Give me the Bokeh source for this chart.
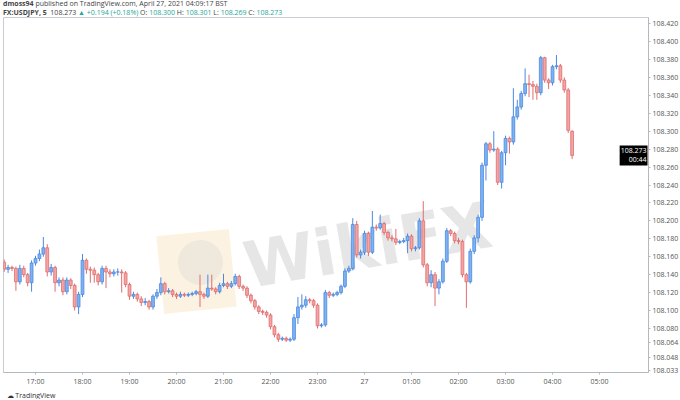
from bokeh.plotting import figure
from bokeh.models import ColumnDataSource, FixedTicker, Label, Div, PrintfTickFormatter, Title
from bokeh.layouts import column
from bokeh.core.properties import value
from bokeh.embed import file_html
from bokeh.resources import INLINE

# USDJPY 5 minute candles, 26 Apr 16:20 -> 27 Apr 04:25
opens = [108.154, 108.146, 108.148, 108.147, 108.132, 108.147, 108.140, 108.131, 108.153, 108.158,
         108.163, 108.170, 108.143, 108.148, 108.131, 108.134, 108.121, 108.134, 108.128, 108.104,
         108.118, 108.156, 108.146, 108.145, 108.140, 108.132, 108.147, 108.143, 108.141, 108.143,
         108.143, 108.142, 108.129, 108.116, 108.118, 108.113, 108.109, 108.110, 108.104, 108.116,
         108.120, 108.130, 108.121, 108.122, 108.118, 108.116, 108.118, 108.117, 108.118, 108.119,
         108.121, 108.118, 108.116, 108.125, 108.124, 108.121, 108.128, 108.130, 108.127, 108.130,
         108.138, 108.127, 108.125, 108.117, 108.111, 108.104, 108.099, 108.098, 108.095, 108.082,
         108.073, 108.068, 108.069, 108.067, 108.068, 108.092, 108.104, 108.106, 108.112, 108.111,
         108.106, 108.083, 108.084, 108.120, 108.117, 108.118, 108.120, 108.127, 108.144, 108.147,
         108.196, 108.162, 108.165, 108.186, 108.165, 108.193, 108.192, 108.197, 108.187, 108.181,
         108.180, 108.176, 108.177, 108.178, 108.183, 108.169, 108.170, 108.200, 108.151, 108.131,
         108.140, 108.125, 108.132, 108.155, 108.189, 108.186, 108.178, 108.177, 108.140, 108.132,
         108.166, 108.181, 108.204, 108.262, 108.286, 108.279, 108.280, 108.243, 108.276, 108.292,
         108.288, 108.316, 108.327, 108.342, 108.353, 108.352, 108.350, 108.343, 108.382, 108.357,
         108.354, 108.372, 108.373, 108.357, 108.346, 108.300]
highs = [108.157, 108.151, 108.150, 108.149, 108.151, 108.150, 108.142, 108.156, 108.161, 108.168,
         108.182, 108.174, 108.152, 108.150, 108.137, 108.137, 108.137, 108.136, 108.130, 108.121,
         108.163, 108.158, 108.149, 108.148, 108.142, 108.150, 108.150, 108.146, 108.146, 108.147,
         108.146, 108.144, 108.131, 108.121, 108.120, 108.116, 108.114, 108.112, 108.118, 108.124,
         108.137, 108.132, 108.125, 108.124, 108.120, 108.121, 108.120, 108.120, 108.121, 108.123,
         108.140, 108.120, 108.140, 108.140, 108.126, 108.131, 108.141, 108.132, 108.133, 108.141,
         108.140, 108.129, 108.127, 108.119, 108.113, 108.106, 108.101, 108.100, 108.097, 108.084,
         108.075, 108.071, 108.071, 108.070, 108.096, 108.115, 108.118, 108.116, 108.114, 108.113,
         108.108, 108.086, 108.123, 108.122, 108.120, 108.122, 108.129, 108.147, 108.150, 108.203,
         108.200, 108.168, 108.189, 108.188, 108.211, 108.196, 108.207, 108.199, 108.189, 108.184,
         108.191, 108.179, 108.181, 108.186, 108.185, 108.172, 108.203, 108.222, 108.153, 108.145,
         108.143, 108.135, 108.158, 108.192, 108.191, 108.188, 108.181, 108.179, 108.142, 108.169,
         108.184, 108.207, 108.265, 108.288, 108.288, 108.300, 108.282, 108.278, 108.295, 108.294,
         108.348, 108.335, 108.345, 108.370, 108.363, 108.356, 108.353, 108.384, 108.383, 108.359,
         108.374, 108.385, 108.375, 108.360, 108.348, 108.301]
lows = [108.143, 108.142, 108.144, 108.122, 108.129, 108.137, 108.127, 108.121, 108.150, 108.155,
        108.160, 108.138, 108.139, 108.121, 108.127, 108.117, 108.118, 108.124, 108.100, 108.096,
        108.115, 108.141, 108.131, 108.131, 108.128, 108.129, 108.125, 108.137, 108.138, 108.139,
        108.120, 108.126, 108.112, 108.113, 108.110, 108.105, 108.106, 108.101, 108.101, 108.113,
        108.117, 108.118, 108.119, 108.115, 108.113, 108.114, 108.115, 108.115, 108.116, 108.117,
        108.104, 108.113, 108.114, 108.122, 108.118, 108.119, 108.126, 108.124, 108.125, 108.128,
        108.124, 108.122, 108.114, 108.108, 108.101, 108.096, 108.095, 108.092, 108.079, 108.070,
        108.065, 108.066, 108.065, 108.065, 108.066, 108.085, 108.101, 108.103, 108.108, 108.103,
        108.080, 108.081, 108.082, 108.114, 108.115, 108.116, 108.118, 108.125, 108.142, 108.145,
        108.159, 108.158, 108.162, 108.161, 108.163, 108.189, 108.190, 108.184, 108.178, 108.177,
        108.173, 108.174, 108.175, 108.164, 108.166, 108.166, 108.168, 108.148, 108.127, 108.126,
        108.105, 108.118, 108.130, 108.153, 108.183, 108.175, 108.174, 108.137, 108.103, 108.130,
        108.163, 108.176, 108.200, 108.245, 108.276, 108.277, 108.240, 108.236, 108.262, 108.275,
        108.285, 108.313, 108.324, 108.339, 108.338, 108.335, 108.335, 108.340, 108.354, 108.347,
        108.351, 108.369, 108.354, 108.343, 108.298, 108.269]
closes = [108.146, 108.148, 108.147, 108.132, 108.147, 108.140, 108.131, 108.153, 108.158, 108.163,
          108.170, 108.143, 108.148, 108.131, 108.134, 108.121, 108.134, 108.128, 108.104, 108.118,
          108.156, 108.146, 108.145, 108.140, 108.132, 108.147, 108.143, 108.141, 108.143, 108.143,
          108.142, 108.129, 108.116, 108.118, 108.113, 108.109, 108.110, 108.104, 108.116, 108.120,
          108.130, 108.121, 108.122, 108.118, 108.116, 108.118, 108.117, 108.118, 108.119, 108.121,
          108.118, 108.116, 108.125, 108.124, 108.121, 108.128, 108.130, 108.127, 108.130, 108.138,
          108.127, 108.125, 108.117, 108.111, 108.104, 108.099, 108.098, 108.095, 108.082, 108.073,
          108.068, 108.069, 108.067, 108.068, 108.092, 108.104, 108.106, 108.112, 108.111, 108.106,
          108.083, 108.084, 108.120, 108.117, 108.118, 108.120, 108.127, 108.144, 108.147, 108.196,
          108.162, 108.165, 108.186, 108.165, 108.193, 108.192, 108.197, 108.187, 108.181, 108.180,
          108.176, 108.177, 108.178, 108.183, 108.169, 108.170, 108.200, 108.151, 108.131, 108.140,
          108.125, 108.132, 108.155, 108.189, 108.186, 108.178, 108.177, 108.140, 108.132, 108.166,
          108.181, 108.204, 108.262, 108.286, 108.279, 108.280, 108.243, 108.276, 108.292, 108.288,
          108.316, 108.327, 108.342, 108.353, 108.352, 108.350, 108.343, 108.382, 108.357, 108.354,
          108.372, 108.373, 108.357, 108.346, 108.301, 108.273]

# hour ticks, counted in 5-minute bars from the first candle
hour_ticks = [8, 20, 32, 44, 56, 68, 80, 92, 104, 116, 128, 140, 152]
hour_labels = ["17:00", "18:00", "19:00", "20:00", "21:00", "22:00", "23:00", "27",
               "01:00", "02:00", "03:00", "04:00", "05:00"]
price_ticks = [108.420, 108.400, 108.380, 108.360, 108.340, 108.320, 108.300, 108.280, 108.260,
               108.240, 108.220, 108.200, 108.180, 108.160, 108.140, 108.120, 108.100, 108.080,
               108.064, 108.048, 108.033]
last_price = 108.273

UP_FILL, UP_LINE = "#7db3f1", "#4a88e0"
DN_FILL, DN_LINE = "#f3a4a4", "#e06c6c"

idx = list(range(len(closes)))
up = [c >= o for o, c in zip(opens, closes)]
src = ColumnDataSource(dict(
    x=idx, high=highs, low=lows,
    top=[max(o, c) for o, c in zip(opens, closes)],
    bottom=[min(o, c) for o, c in zip(opens, closes)],
    fill=[UP_FILL if u else DN_FILL for u in up],
    line=[UP_LINE if u else DN_LINE for u in up],
))

X0, X1 = -0.17, 164.5
Y0, Y1 = 108.0309, 108.4268

header = Div(
    text=('<div style="font-family:\'Open Sans\',sans-serif;font-size:7px;line-height:8.5px;'
          'color:#444;white-space:nowrap;padding-left:3px;">'
          '<b>dmoss94</b> published on TradingView.com, April 27, 2021 04:09:17 BST<br>'
          '<b>FX:USDJPY, 5</b>&nbsp; 108.273 <span style="color:#26a69a">&#9650; +0.194 (+0.18%)</span>'
          ' O: <span style="color:#26a69a">108.300</span> H: <span style="color:#26a69a">108.301</span>'
          ' L: <span style="color:#26a69a">108.269</span> C: <span style="color:#26a69a">108.273</span>'
          '</div>'),
    width=680, height=17, margin=(0, 0, 0, 0),
)

p = figure(frame_width=645, frame_height=355, x_range=(X0, X1), y_range=(Y0, Y1),
           y_axis_location="right", output_backend="svg", toolbar_location=None,
           min_border_left=3, min_border_top=0, min_border_bottom=0, min_border_right=32)
p.background_fill_color = "white"
p.border_fill_color = "white"
p.grid.visible = False
p.outline_line_color = "#c9ccd3"

# watermark
p.rect(x=[49.1], y=[108.1436], width=[18.6], height=[0.087], angle=0.1,
       fill_color="#fbf0dc", line_color=None, fill_alpha=0.85)
p.ellipse(x=[50.1], y=[108.1536], width=[11.5], height=[0.05], angle=0.1,
          fill_color="#ebe5dc", line_color=None, fill_alpha=0.8)
p.text(x=[92.8], y=[108.1725], text=["WikiFX"], angle=0.17, text_font=value("DejaVu Sans"),
       text_font_style="bold", text_font_size="64px", text_color="#e6e6e6",
       text_align="center", text_baseline="middle")

p.segment(x0="x", x1="x", y0="low", y1="high", line_color="line", line_width=1, source=src)
p.vbar(x="x", width=0.72, top="top", bottom="bottom", fill_color="fill", line_color="line",
       line_width=0.8, source=src)

p.xaxis.ticker = FixedTicker(ticks=hour_ticks)
p.xaxis.major_label_overrides = {t: s for t, s in zip(hour_ticks, hour_labels)}
p.yaxis.ticker = FixedTicker(ticks=price_ticks)
p.yaxis.formatter = PrintfTickFormatter(format="%.3f")
for ax in (p.xaxis[0], p.yaxis[0]):
    ax.axis_line_color = "#b5b8bf"
    ax.major_tick_line_color = "#b5b8bf"
    ax.major_tick_out = 2
    ax.major_tick_in = 0
    ax.minor_tick_line_color = None
    ax.major_label_text_font_size = "7px"
    ax.major_label_text_color = "#555555"
    ax.major_label_text_font = "Open Sans"
    ax.major_label_standoff = 2

# footer logo under the time scale
p.add_layout(Title(text="\u2601 TradingView", align="left", offset=3, standoff=0,
                   text_font_size="7px", text_font_style="normal", text_color="#333333",
                   text_font="Open Sans"), "below")

# last price tag (labels are clipped to the plot area, so it sits against the price scale)
p.add_layout(Label(x=X1, y=last_price, x_offset=-1, text="108.273\n00:44",
                   text_font_size="7px", text_color="white", text_font="Open Sans",
                   text_align="right", text_baseline="middle", text_line_height=1.0,
                   background_fill_color="black", padding=1))

layout = column(header, p, spacing=0)
open("out.html", "w").write(file_html(layout, INLINE))
